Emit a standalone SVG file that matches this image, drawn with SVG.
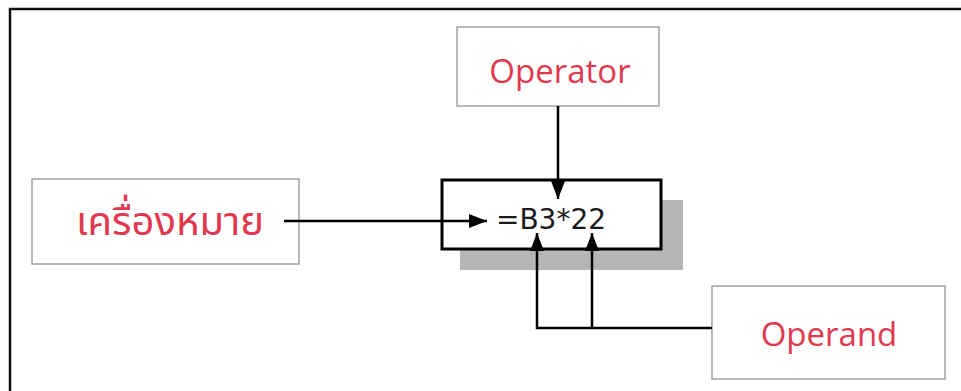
<svg xmlns="http://www.w3.org/2000/svg" width="961" height="391" viewBox="0 0 961 391">
<defs>
<style>
.box{fill:#fff;stroke:#a0a0a0;stroke-width:1.5}
.lbl{fill:#e0394f;font-family:"Open Sans","Noto Sans","DejaVu Sans",sans-serif;font-size:33px;text-anchor:middle}
.thai{fill:#e0394f;font-family:"Noto Sans Thai","DejaVu Sans","Noto Sans",sans-serif;font-size:40px;text-anchor:middle}
.conn{fill:none;stroke:#000;stroke-width:2.5}
</style>
<marker id="ah" viewBox="0 0 18 14" refX="18" refY="7" markerWidth="18" markerHeight="14" markerUnits="userSpaceOnUse" orient="auto">
<path d="M0,0 L18,7 L0,14 z" fill="#000"/>
</marker>
</defs>
<rect x="0" y="0" width="961" height="391" fill="#fff"/>
<rect x="10" y="9" width="1000" height="500" fill="none" stroke="#111" stroke-width="2.5"/>
<g id="operator">
<rect class="box" x="457" y="27" width="202" height="79"/>
<text class="lbl" x="560" y="83">Operator</text>
</g>
<g id="symbol">
<rect class="box" x="32" y="179" width="267" height="85"/>
<text class="thai" x="170" y="235">เครื่องหมาย</text>
</g>
<g id="formula">
<rect x="460" y="200" width="223" height="70" fill="#b5b5b5"/>
<rect x="442" y="180" width="219" height="69" fill="#fff" stroke="#000" stroke-width="3"/>
<text x="551" y="229" fill="#1a1a1a" font-family="DejaVu Sans, sans-serif" font-size="28" text-anchor="middle">=B3*22</text>
</g>
<g id="operand">
<rect class="box" x="712" y="286" width="233" height="93"/>
<text class="lbl" x="829" y="346">Operand</text>
</g>
<g id="connectors">
<path class="conn" d="M558,106 V199" marker-end="url(#ah)"/>
<path class="conn" d="M284,221 H487" marker-end="url(#ah)"/>
<path class="conn" d="M712,328 H537 V233" marker-end="url(#ah)"/>
<path class="conn" d="M592,328 V233" marker-end="url(#ah)"/>
</g>
</svg>
